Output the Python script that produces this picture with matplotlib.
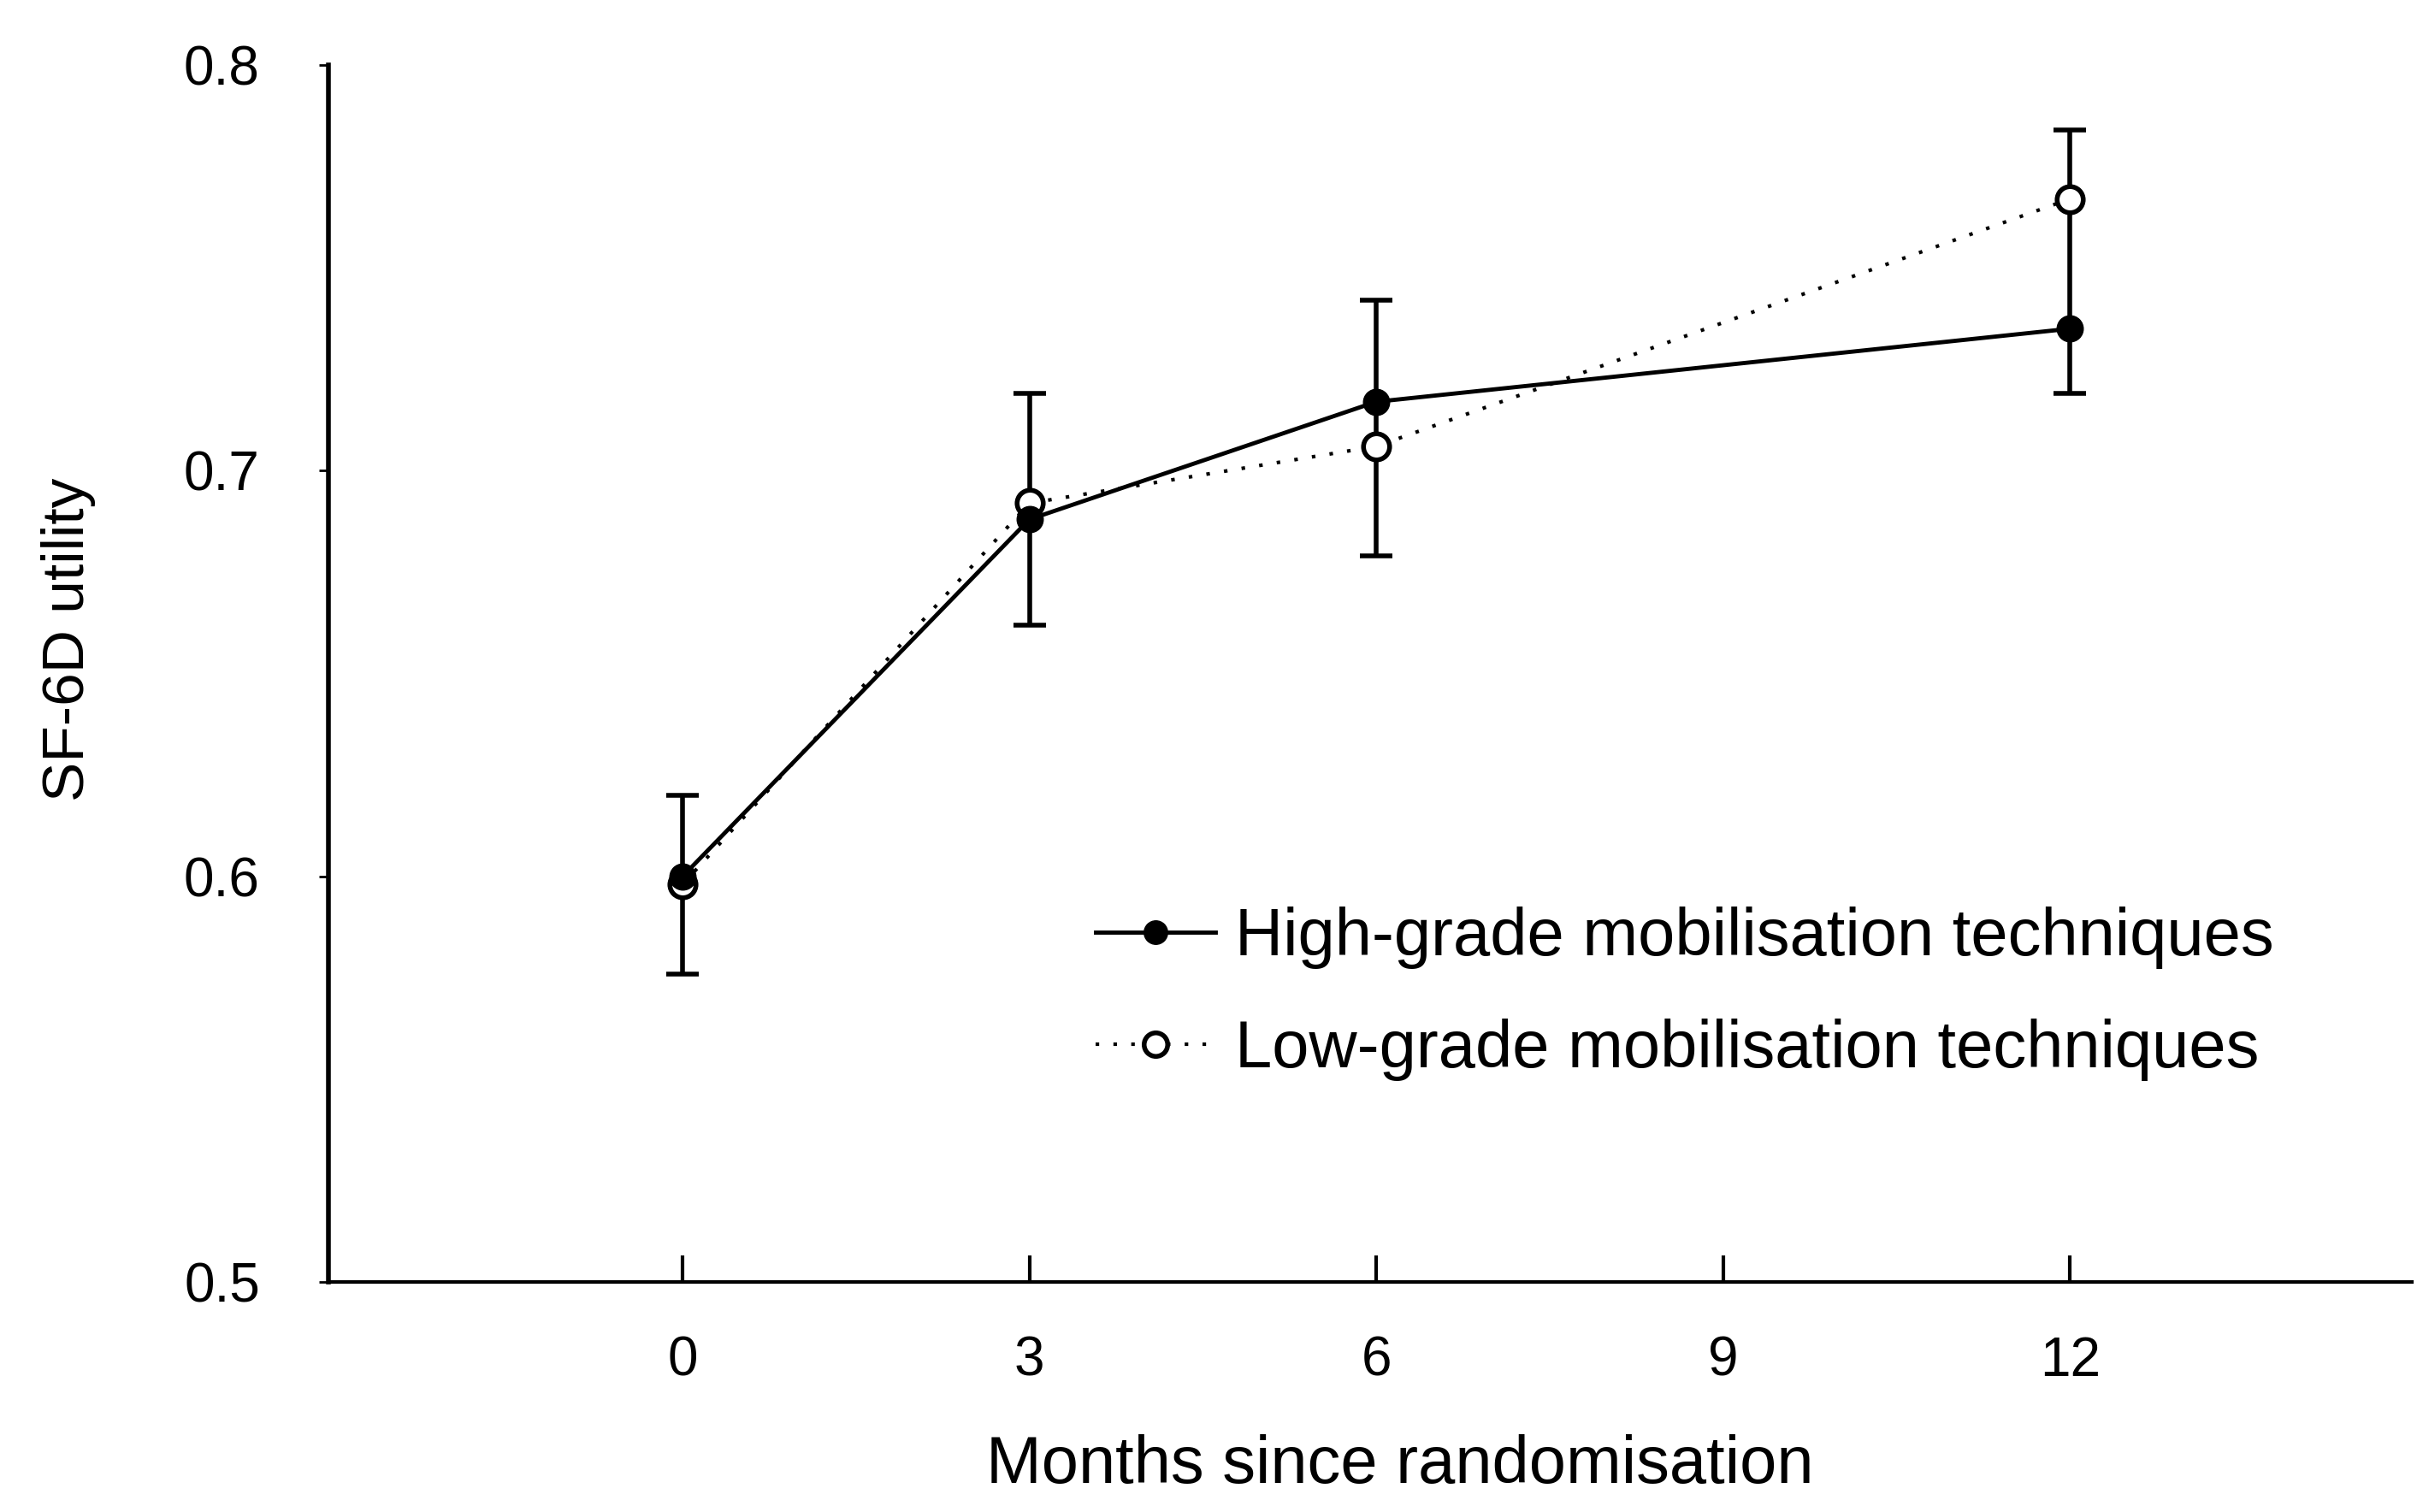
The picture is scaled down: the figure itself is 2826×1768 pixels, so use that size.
import matplotlib
matplotlib.use("Agg")
import matplotlib.pyplot as plt

# Data
months = [0, 3, 6, 12]
high_grade = [0.600, 0.688, 0.717, 0.735]
low_grade = [0.598, 0.692, 0.706, 0.767]
# vertical bars drawn through both groups
ci_low = [0.576, 0.662, 0.679, 0.719]
ci_high = [0.620, 0.719, 0.742, 0.784]

x_ticks = [0, 3, 6, 9, 12]
y_ticks = [0.5, 0.6, 0.7, 0.8]
y_tick_labels = ["0.5", "0.6", "0.7", "0.8"]

plt.rcParams['font.family'] = ['Liberation Sans', 'DejaVu Sans']

fig = plt.figure(figsize=(28.26, 17.68), dpi=100)
ax = fig.add_axes([0.136, 0.152, 0.862, 0.805])

# error bars
mid = [(lo + hi) / 2 for lo, hi in zip(ci_low, ci_high)]
err = [[m - lo for m, lo in zip(mid, ci_low)], [hi - m for hi, m in zip(ci_high, mid)]]
ax.errorbar(months, mid, yerr=err, fmt='none', ecolor='black', elinewidth=4,
            capsize=14, capthick=4, zorder=2)

ax.plot(months, low_grade, color='black', linestyle=(0, (1, 4)), linewidth=3,
        marker='o', markersize=22, markerfacecolor='white', markeredgewidth=4,
        markeredgecolor='black', label='Low-grade mobilisation techniques', zorder=3)
ax.plot(months, high_grade, color='black', linestyle='-', linewidth=3.5,
        marker='o', markersize=22, markerfacecolor='black', markeredgecolor='black',
        label='High-grade mobilisation techniques', zorder=4)

ax.set_xlim(-3.06, 14.96)
ax.set_ylim(0.5, 0.8)
ax.set_xticks(x_ticks)
ax.set_yticks(y_ticks)
ax.set_yticklabels(y_tick_labels)

for side in ['top', 'right']:
    ax.spines[side].set_visible(False)
ax.spines['left'].set_linewidth(4)
ax.spines['bottom'].set_linewidth(3)

ax.tick_params(axis='x', direction='in', length=22, width=3, pad=45, labelsize=46)
ax.tick_params(axis='y', direction='out', length=8, width=2, pad=50, labelsize=46)

ax.set_xlabel('Months since randomisation', fontsize=56)
ax.xaxis.set_label_coords(0.514, -0.125)
ax.set_ylabel('SF-6D utility', fontsize=50)
ax.yaxis.set_label_coords(-0.112, 0.528)

handles, labels = ax.get_legend_handles_labels()
leg = ax.legend(handles[::-1], labels[::-1], loc='upper left',
                bbox_to_anchor=(0.4285, 0.44), bbox_transform=fig.transFigure,
                frameon=False, fontsize=56, handlelength=1.8, handletextpad=0.3,
                labelspacing=0.75, markerscale=0.9)

fig.savefig('out.png', dpi=100)
